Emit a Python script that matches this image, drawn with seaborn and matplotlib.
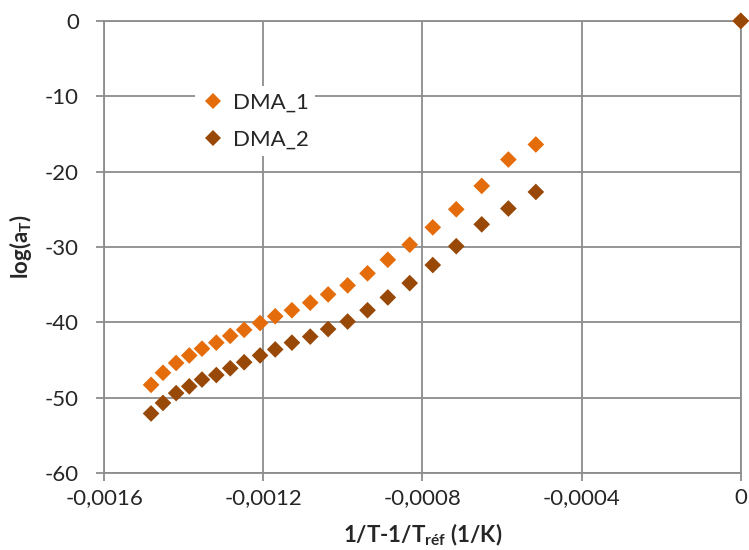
import matplotlib
matplotlib.use("Agg")
import matplotlib.pyplot as plt
from matplotlib.ticker import FuncFormatter, MultipleLocator
import seaborn as sns
import pandas as pd

# data
x_inv = [-0.001482, -0.001452, -0.001419, -0.001386, -0.001354, -0.001318,
         -0.001283, -0.001248, -0.001208, -0.001170, -0.001128, -0.001082,
         -0.001037, -0.000988, -0.000938, -0.000887, -0.000832, -0.000774,
         -0.000715, -0.000651, -0.000584, -0.000515, 0.0]
dma_1 = [-48.3, -46.7, -45.4, -44.4, -43.5, -42.7, -41.8, -41.0, -40.1, -39.2,
         -38.4, -37.4, -36.3, -35.1, -33.5, -31.7, -29.7, -27.4, -25.0, -21.9,
         -18.4, -16.4, 0.0]
dma_2 = [-52.1, -50.7, -49.4, -48.5, -47.6, -47.0, -46.1, -45.3, -44.4, -43.6,
         -42.7, -41.9, -40.9, -39.9, -38.4, -36.7, -34.8, -32.4, -29.9, -27.0,
         -24.9, -22.7, 0.0]
series = ["DMA_1", "DMA_2"]
colors = {"DMA_1": "#E46C0A", "DMA_2": "#984807"}

df = pd.concat([
    pd.DataFrame({"x": x_inv, "y": dma_1, "serie": "DMA_1"}),
    pd.DataFrame({"x": x_inv, "y": dma_2, "serie": "DMA_2"}),
])

sns.set_style("white")
plt.rcParams["font.family"] = ["Lato", "DejaVu Sans"]
plt.rcParams["mathtext.fontset"] = "custom"
plt.rcParams["mathtext.rm"] = "Lato"
plt.rcParams["mathtext.bf"] = "Lato:bold"

fig = plt.figure(figsize=(7.49, 5.5), dpi=100)
ax = fig.add_axes([0.139, 0.14, 0.85, 0.822])

sns.scatterplot(data=df, x="x", y="y", hue="serie", hue_order=series,
                palette=colors, marker="D", s=72, linewidth=0, ax=ax, zorder=3,
                clip_on=False)

ax.set_xlim(-0.0016, 0)
ax.set_ylim(-60, 0)
ax.xaxis.set_major_locator(MultipleLocator(0.0004))
ax.yaxis.set_major_locator(MultipleLocator(10))
ax.xaxis.set_major_formatter(FuncFormatter(lambda v, p: ("%g" % round(v, 6)).replace(".", ",")))
ax.yaxis.set_major_formatter(FuncFormatter(lambda v, p: "%g" % v))
ax.grid(True, color="#8c8c8c", linewidth=1.3)
for s in ax.spines.values():
    s.set_color("#8c8c8c")
    s.set_linewidth(1.3)
ax.tick_params(axis="both", labelsize=16, color="#8c8c8c", length=6,
               width=1.3, direction="out", bottom=True, left=True)
ax.tick_params(axis="y", pad=12)
ax.tick_params(axis="x", pad=5)

ax.set_xlabel(r"1/T-1/T$_{\mathbf{réf}}$ (1/K)", fontsize=16, fontweight="bold", labelpad=10)
ax.set_ylabel(r"log(a$_{\mathbf{T}}$)", fontsize=16, fontweight="bold", labelpad=8)

leg = ax.legend(loc="upper left", bbox_to_anchor=(0.125, 0.88), frameon=True,
                fontsize=16, handlelength=1.0, handletextpad=0.4, borderpad=0.3,
                labelspacing=0.75, markerscale=1.0)
leg.get_frame().set_facecolor("white")
leg.get_frame().set_edgecolor("none")
leg.get_frame().set_alpha(1)
leg.set_zorder(5)

plt.savefig("out.png", dpi=100)
